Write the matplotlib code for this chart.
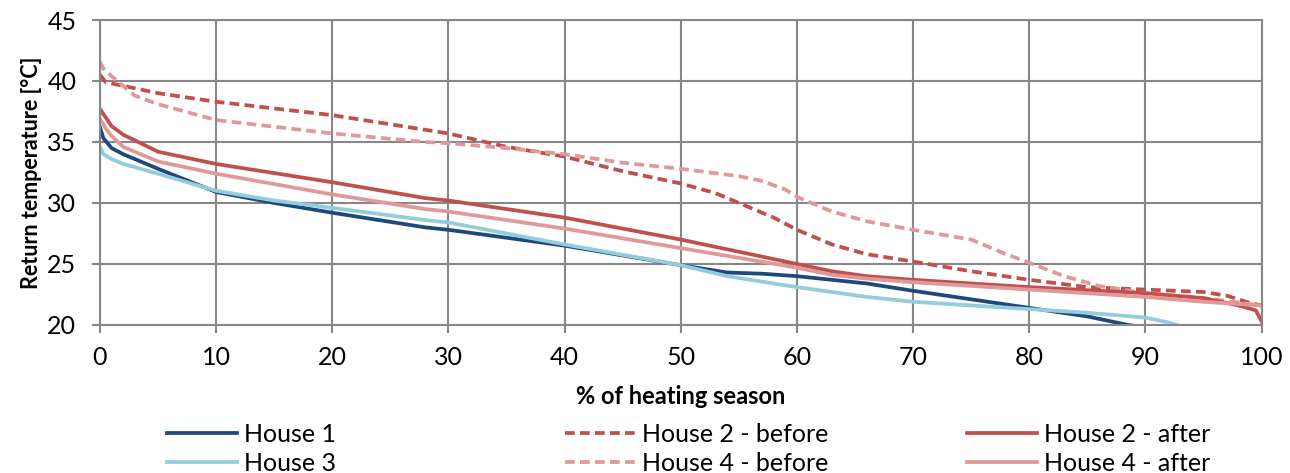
import matplotlib
matplotlib.use("Agg")
import matplotlib.pyplot as plt

plt.rcParams['font.family'] = ['Lato', 'DejaVu Sans']

# House 1
h1_x = [0, 0.3, 1, 2, 5, 10, 15, 20, 28, 30, 40, 50, 52, 54, 57, 60, 63, 66, 70, 75, 80, 85, 88.5, 90]
h1_y = [36.2, 35.3, 34.5, 34.0, 32.8, 30.9, 30.0, 29.2, 28.0, 27.8, 26.5, 24.9, 24.6, 24.3, 24.2, 24.0, 23.7, 23.4, 22.8, 22.1, 21.4, 20.7, 20.0, 19.8]
# House 3
h3_x = [0, 0.3, 1, 2, 5, 10, 15, 20, 28, 30, 40, 50, 54, 60, 63, 66, 70, 80, 85, 90, 92, 93]
h3_y = [34.6, 34.0, 33.6, 33.2, 32.4, 31.0, 30.2, 29.6, 28.6, 28.4, 26.6, 24.9, 24.0, 23.1, 22.7, 22.3, 21.9, 21.3, 21.0, 20.6, 20.2, 19.9]
# House 2 - before
h2b_x = [0, 0.5, 2, 5, 10, 20, 28, 30, 35, 40, 45, 50, 53, 55, 58, 60, 63, 66, 70, 75, 80, 85, 90, 95, 97, 99, 100]
h2b_y = [40.5, 39.9, 39.6, 39.0, 38.3, 37.2, 36.0, 35.7, 34.6, 33.8, 32.6, 31.6, 30.8, 30.0, 28.8, 27.8, 26.6, 25.8, 25.2, 24.4, 23.7, 23.1, 22.9, 22.7, 22.4, 21.8, 21.6]
# House 2 - after
h2a_x = [0, 0.5, 1, 2, 5, 10, 20, 28, 30, 40, 50, 60, 63, 66, 70, 80, 90, 95, 98, 99.5, 100]
h2a_y = [37.7, 37.0, 36.3, 35.6, 34.2, 33.2, 31.7, 30.4, 30.2, 28.8, 27.0, 25.0, 24.4, 24.0, 23.7, 23.1, 22.6, 22.2, 21.6, 21.2, 20.3]
# House 4 - before
h4b_x = [0, 0.3, 1, 2, 3, 5, 10, 20, 28, 30, 35, 40, 45, 50, 55, 57, 59, 60, 63, 66, 70, 75, 78, 80, 83, 86, 90, 95, 100]
h4b_y = [41.6, 41.0, 40.4, 39.6, 38.8, 38.1, 36.8, 35.7, 35.0, 34.9, 34.5, 34.0, 33.3, 32.8, 32.2, 31.8, 31.1, 30.5, 29.3, 28.5, 27.8, 27.0, 25.8, 25.1, 24.0, 23.2, 22.6, 22.2, 21.6]
# House 4 - after
h4a_x = [0, 0.5, 1, 2, 5, 10, 20, 28, 30, 40, 50, 60, 63, 66, 70, 80, 90, 95, 100]
h4a_y = [36.9, 36.1, 35.5, 34.6, 33.4, 32.4, 30.7, 29.5, 29.3, 27.9, 26.3, 24.7, 24.1, 23.8, 23.5, 22.9, 22.3, 21.9, 21.6]

dark_blue = "#1F497D"
light_blue = "#93CDDD"
red = "#C0504D"
light_red = "#E0999A"

fig = plt.figure(figsize=(12.9, 4.73), dpi=100)
ax = fig.add_axes([0.0775, 0.313, 0.9005, 0.6447])

lw = 2.7
dash = (2.6, 1.4)
l1, = ax.plot(h1_x, h1_y, color=dark_blue, lw=lw, label="House 1")
l3, = ax.plot(h3_x, h3_y, color=light_blue, lw=lw, label="House 3")
l2b, = ax.plot(h2b_x, h2b_y, color=red, lw=lw, dashes=dash, label="House 2 - before")
l4b, = ax.plot(h4b_x, h4b_y, color=light_red, lw=lw, dashes=dash, label="House 4 - before")
l2a, = ax.plot(h2a_x, h2a_y, color=red, lw=lw, label="House 2 - after")
l4a, = ax.plot(h4a_x, h4a_y, color=light_red, lw=lw, label="House 4 - after")

ax.set_xlim(0, 100)
ax.set_ylim(20, 45)
ax.set_xticks(range(0, 101, 10))
ax.set_yticks(range(20, 46, 5))
ax.grid(True, color="#878787", lw=1.5)
ax.set_axisbelow(True)
for s in ax.spines.values():
    s.set_color("#878787")
    s.set_linewidth(1.5)
ax.tick_params(axis="both", colors="#878787", length=6, width=1.5, labelsize=18, labelcolor="black")
ax.tick_params(axis="y", pad=11)
ax.tick_params(axis="x", pad=9)

ax.set_xlabel("% of heating season", fontsize=17, fontweight="bold", labelpad=12)
ax.set_ylabel("Return temperature [°C]", fontsize=15.5, fontweight="bold", labelpad=4)

# one legend per column, like the equal-width cells of the original
for handles, xpos in [((l1, l3), 0.1295), ((l2b, l4b), 0.438), ((l2a, l4a), 0.7496)]:
    leg = fig.legend(handles=handles, loc="center left", bbox_to_anchor=(xpos, 0.051),
                     frameon=False, fontsize=18, handlelength=2.8, handletextpad=0.28,
                     labelspacing=0.22, borderpad=0, borderaxespad=0)

fig.savefig("out.png", dpi=100)
